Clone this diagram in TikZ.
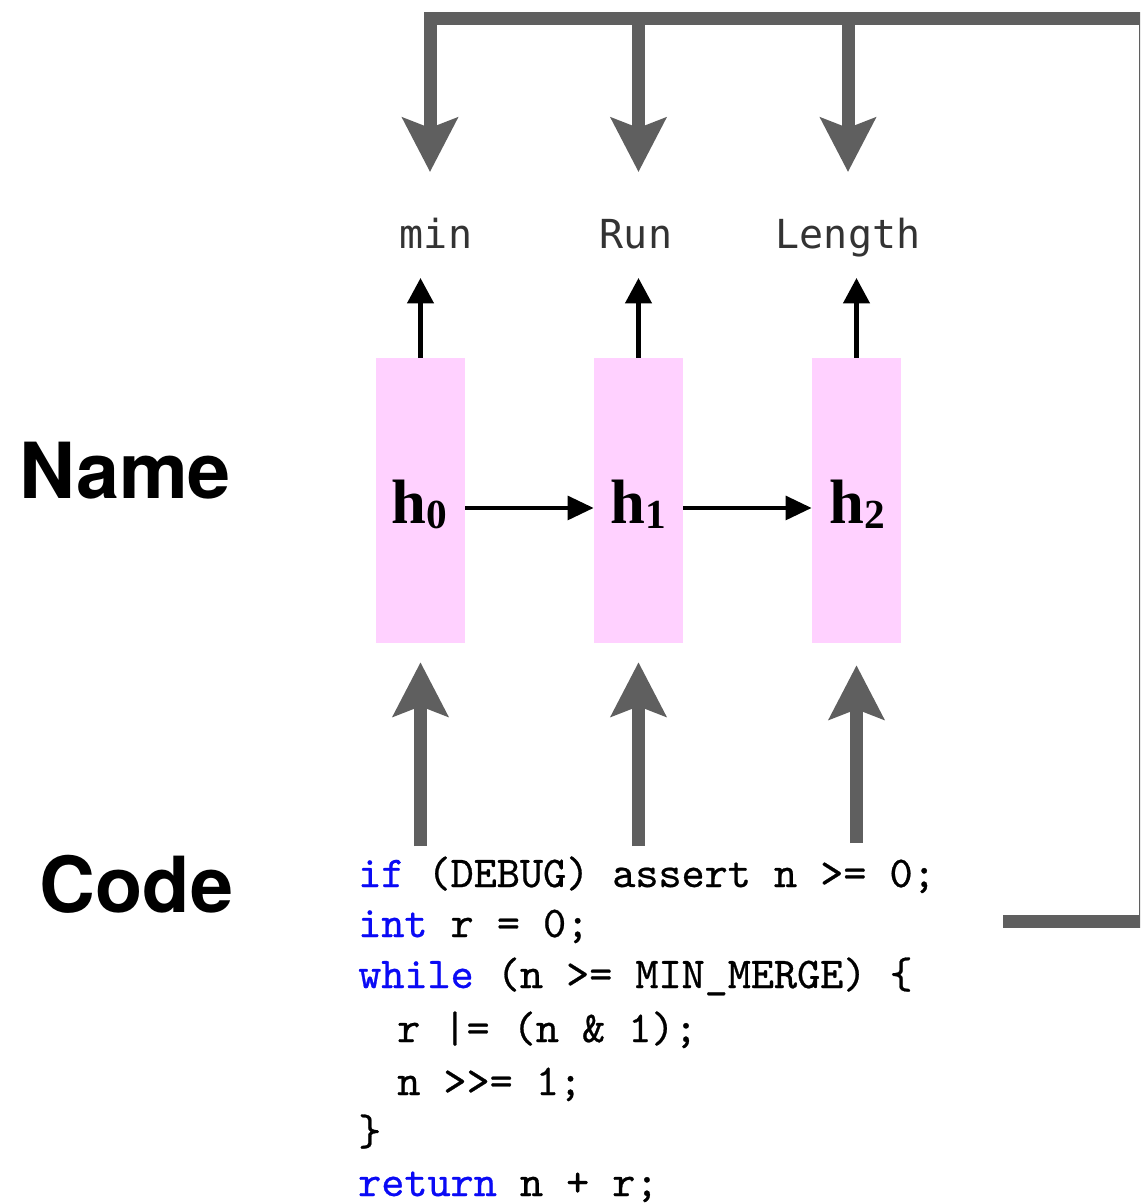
\documentclass[tikz,border=0pt]{standalone}
\usepackage{fontspec}
\usetikzlibrary{arrows.meta}
\newfontfamily\labelfont{DejaVu Sans Mono}
\newfontfamily\headfont{TeX Gyre Heros}
\newfontfamily\hfont{Liberation Serif}
\newfontfamily\codefont[FakeBold=0.6]{lmmono10-regular.otf}
\definecolor{loopgray}{RGB}{95,95,95}
\definecolor{boxpink}{RGB}{255,209,255}
\definecolor{kwblue}{RGB}{10,10,245}
\definecolor{lblgray}{RGB}{51,51,51}
\newcommand\kwd[1]{\textcolor{kwblue}{#1}}
\begin{document}
\begin{tikzpicture}[x=0.75pt,y=-0.75pt,
  hbox/.style={fill=boxpink, draw=none, minimum width=66.75pt, minimum height=213.75pt, inner sep=0pt},
  outlbl/.style={font=\labelfont\fontsize{30}{36}\selectfont, text=lblgray, anchor=base, inner sep=0pt},
  hlbl/.style={font=\hfont\bfseries\fontsize{47}{56}\selectfont, anchor=base, inner sep=0pt},
  sidelbl/.style={font=\headfont\bfseries\fontsize{58}{70}\selectfont, anchor=base, inner sep=0pt},
  codeline/.style={font=\codefont\fontsize{33}{40}\selectfont, anchor=base west, inner sep=0pt},
  uparrow/.style={draw=black, line width=3.2pt, -{Triangle[length=19pt,width=19.5pt]}},
  sidearrow/.style={draw=black, line width=3.5pt, -{Triangle[length=19.5pt,width=17.5pt]}},
  bigarrow/.style={draw=loopgray, line width=9.75pt, line join=miter, -{Stealth[length=40.5pt,width=41pt,inset=7.5pt]}}
]
\useasboundingbox (0,0) rectangle (1140,1204);
\clip (0,0) rectangle (1140,1204);
\fill[white] (0,0) rectangle (1140,1204);

% side labels
\node[sidelbl] (name) at (125,498) {Name};
\node[sidelbl] (codelbl) at (136.5,912) {Code};

% hidden-state boxes
\node[hbox] (b0) at (420.5,500.5) {};
\node[hbox] (b1) at (638.5,500.5) {};
\node[hbox] (b2) at (856.5,500.5) {};
\node[hlbl] (h0) at (419,523) {h\raisebox{-3.75pt}{\fontsize{31}{36}\selectfont 0}};
\node[hlbl] (h1) at (638,523) {h\raisebox{-3.75pt}{\fontsize{31}{36}\selectfont 1}};
\node[hlbl] (h2) at (857,523) {h\raisebox{-3.75pt}{\fontsize{31}{36}\selectfont 2}};
\draw[sidearrow] ([yshift=-5.6pt]b0.east) -- ([yshift=-5.6pt]b1.west);
\draw[sidearrow] ([yshift=-5.6pt]b1.east) -- ([yshift=-5.6pt]b2.west);

% output tokens
\node[outlbl] (o0) at (436,248) {min};
\node[outlbl] (o1) at (636,248) {Run};
\node[outlbl] (o2) at (848,248) {Length};
\coordinate (t0) at (420.5,278);
\coordinate (t1) at (638.5,278);
\coordinate (t2) at (856.5,278);
\draw[uparrow] (b0.north) -- (t0);
\draw[uparrow] (b1.north) -- (t1);
\draw[uparrow] (b2.north) -- (t2);

% code
\node[codeline] (l1) at (358,887) {\kwd{if} (DEBUG) assert n >= 0;};
\node[codeline] (l2) at (358,937) {\kwd{int} r = 0;};
\node[codeline] (l3) at (358,988) {\kwd{while} (n >= MIN\_MERGE) \{};
\node[codeline] (l4) at (397,1042) {r |= (n \& 1);};
\node[codeline] (l5) at (397,1095) {n >>= 1;};
\node[codeline] (l6) at (358,1145) {\}};
\node[codeline] (l7) at (358,1196) {\kwd{return} n + r;};

% code -> boxes
\coordinate (s0) at (420.5,846);
\coordinate (s1) at (638.5,846);
\coordinate (s2) at (856.5,843);
\draw[bigarrow] (s0) -- ([yshift=-14.25pt]b0.south);
\draw[bigarrow] (s1) -- ([yshift=-14.25pt]b1.south);
\draw[bigarrow] (s2) -- ([yshift=-16.5pt]b2.south);

% feedback loop
\coordinate (ls) at (1003,921.5);
\coordinate (cr) at (1145,921.5);
\coordinate (tr) at (1145,18);
\coordinate (tl) at (430,18);
\coordinate (j1) at (638.5,18);
\coordinate (j2) at (848,18);
\coordinate (d0) at (430,172);
\coordinate (d1) at (638.5,172);
\coordinate (d2) at (848,172);
\draw[bigarrow] (ls) -- (cr) -- (tr) -- (tl) -- (d0);
\draw[bigarrow] (j1) -- (d1);
\draw[bigarrow] (j2) -- (d2);
\end{tikzpicture}
\end{document}
